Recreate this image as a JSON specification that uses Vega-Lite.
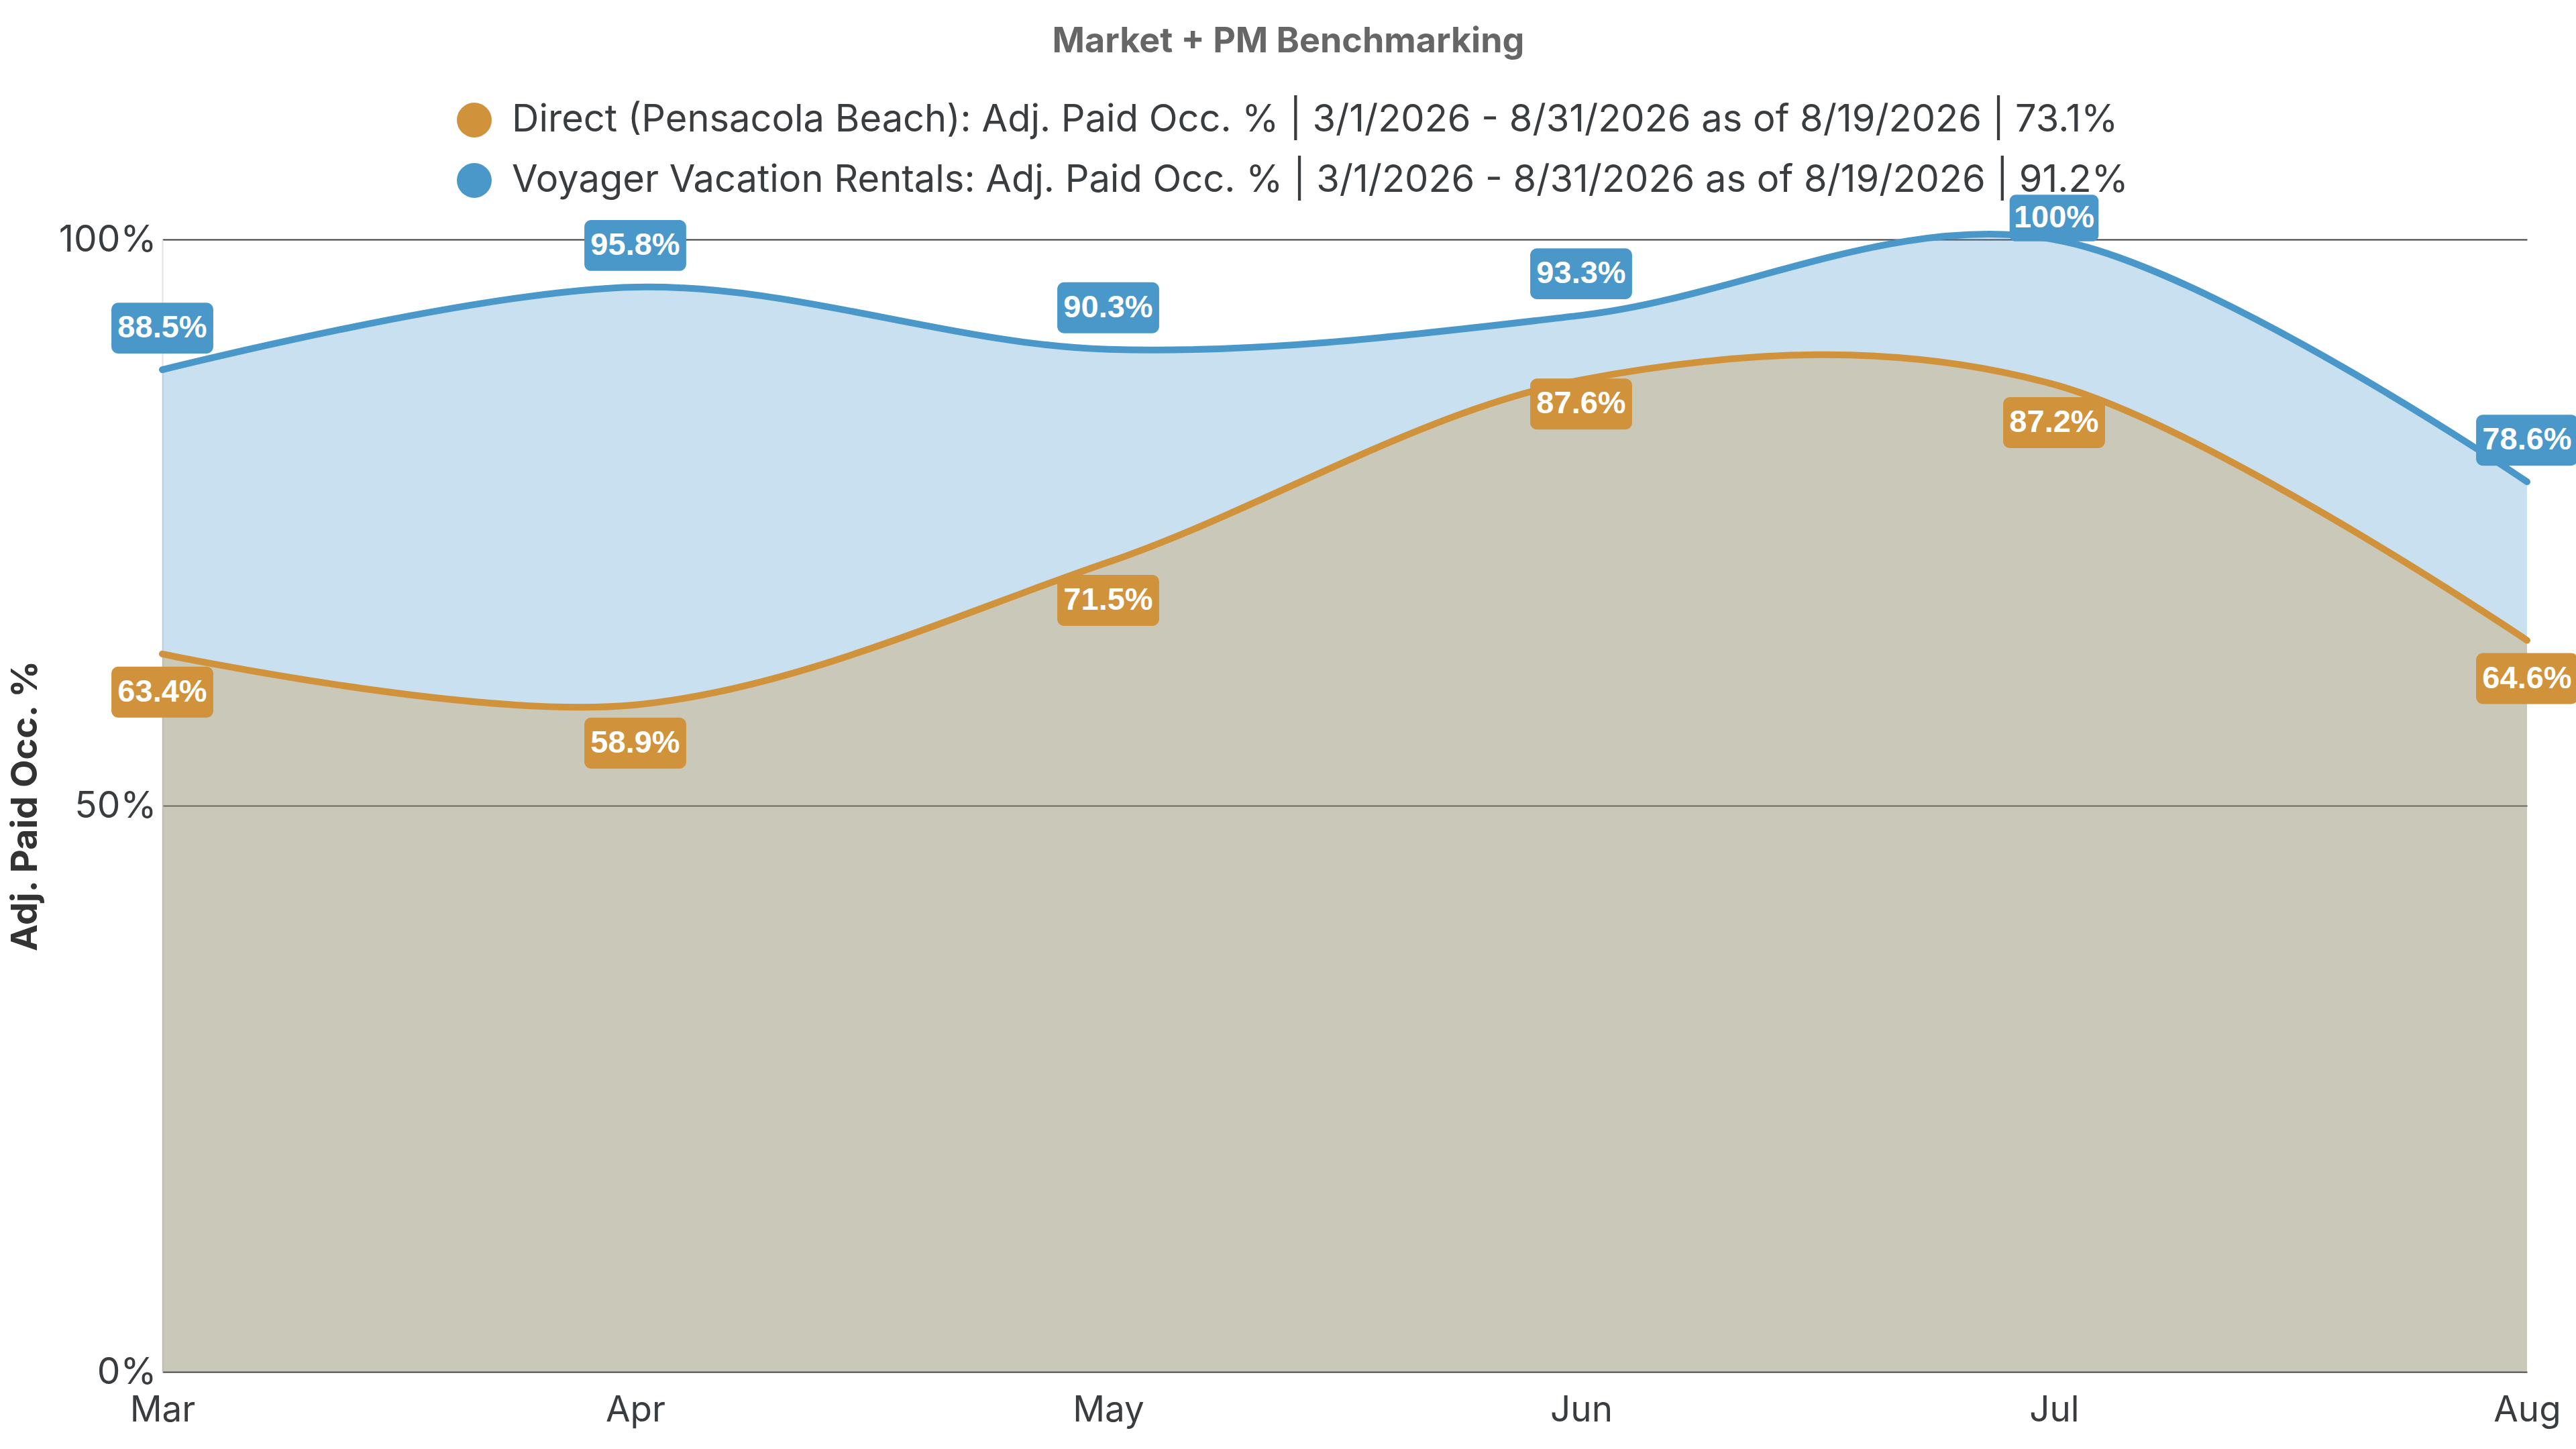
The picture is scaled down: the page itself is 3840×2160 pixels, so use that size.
{
  "$schema": "https://vega.github.io/schema/vega-lite/v6.json",
  "width": 3525,
  "height": 1688,
  "autosize": {"type": "none"},
  "padding": {"left": 242, "top": 357, "right": 73, "bottom": 115},
  "background": "white",
  "title": {
    "text": "Market + PM Benchmarking",
    "font": "Inter",
    "fontSize": 52,
    "fontWeight": "bold",
    "color": "#666666",
    "anchor": "middle",
    "frame": "group",
    "dx": -84,
    "offset": 62
  },
  "config": {
    "view": {"stroke": null}
  },
  "data": {
    "values": [
      {"month": "Mar", "series": "Direct (Pensacola Beach)", "occ": 0.634},
      {"month": "Apr", "series": "Direct (Pensacola Beach)", "occ": 0.589},
      {"month": "May", "series": "Direct (Pensacola Beach)", "occ": 0.715},
      {"month": "Jun", "series": "Direct (Pensacola Beach)", "occ": 0.876},
      {"month": "Jul", "series": "Direct (Pensacola Beach)", "occ": 0.872},
      {"month": "Aug", "series": "Direct (Pensacola Beach)", "occ": 0.646},
      {"month": "Mar", "series": "Voyager Vacation Rentals", "occ": 0.885},
      {"month": "Apr", "series": "Voyager Vacation Rentals", "occ": 0.958},
      {"month": "May", "series": "Voyager Vacation Rentals", "occ": 0.903},
      {"month": "Jun", "series": "Voyager Vacation Rentals", "occ": 0.933},
      {"month": "Jul", "series": "Voyager Vacation Rentals", "occ": 1.0},
      {"month": "Aug", "series": "Voyager Vacation Rentals", "occ": 0.786}
    ]
  },
  "encoding": {
    "x": {
      "field": "month",
      "type": "ordinal",
      "sort": ["Mar", "Apr", "May", "Jun", "Jul", "Aug"],
      "scale": {"type": "point", "padding": 0},
      "axis": {
        "title": null,
        "labelAngle": 0,
        "labelFont": "Inter",
        "labelFontSize": 53,
        "labelColor": "#3a3d40",
        "labelPadding": 31,
        "ticks": false,
        "domain": false,
        "grid": false
      }
    },
    "y": {
      "field": "occ",
      "type": "quantitative",
      "stack": null,
      "scale": {"domain": [0, 1]},
      "axis": {
        "values": [0, 0.5, 1],
        "format": "~%",
        "title": "Adj. Paid Occ. %",
        "titleFont": "Inter",
        "titleFontSize": 54,
        "titleFontWeight": "bold",
        "titleColor": "#333333",
        "titlePadding": 22,
        "labelFont": "Inter",
        "labelFontSize": 55,
        "labelColor": "#3a3d40",
        "labelPadding": 9,
        "ticks": false,
        "domain": true,
        "domainColor": "#e2e2e2",
        "domainWidth": 2,
        "grid": true,
        "gridColor": "#3a3d40",
        "gridWidth": 2
      }
    }
  },
  "layer": [
    {
      "transform": [{"filter": "datum.series == 'Voyager Vacation Rentals'"}],
      "mark": {"type": "area", "interpolate": "cardinal", "color": "#4a98c9", "fillOpacity": 0.3}
    },
    {
      "transform": [{"filter": "datum.series == 'Direct (Pensacola Beach)'"}],
      "mark": {"type": "area", "interpolate": "cardinal", "color": "#d0923a", "fillOpacity": 0.3}
    },
    {
      "mark": {"type": "line", "interpolate": "cardinal", "strokeWidth": 10, "strokeCap": "round"},
      "encoding": {
        "stroke": {
          "field": "series",
          "type": "nominal",
          "scale": {"domain": ["Voyager Vacation Rentals", "Direct (Pensacola Beach)"], "range": ["#4a98c9", "#d0923a"]},
          "legend": null
        }
      }
    },
    {
      "transform": [{"filter": "datum.series == 'Direct (Pensacola Beach)' && datum.month != 'Jun'"}],
      "layer": [
        {
          "mark": {
            "type": "point",
            "filled": true,
            "opacity": 1,
            "size": 21316,
            "yOffset": 57,
            "shape": "M-0.9,-0.52 L0.9,-0.52 A0.14,0.14 0 0 1 1.04,-0.38 L1.04,0.38 A0.14,0.14 0 0 1 0.9,0.52 L-0.9,0.52 A0.14,0.14 0 0 1 -1.04,0.38 L-1.04,-0.38 A0.14,0.14 0 0 1 -0.9,-0.52 Z"
          },
          "encoding": {
            "color": {
              "field": "series",
              "type": "nominal",
              "scale": {"domain": ["Direct (Pensacola Beach)", "Voyager Vacation Rentals"], "range": ["#d0923a", "#4a98c9"]},
              "legend": {
                "orient": "none",
                "legendX": 437,
                "legendY": -206,
                "direction": "vertical",
                "title": null,
                "padding": 0,
                "labelFont": "Inter",
                "labelFontSize": 56,
                "labelColor": "#3a3d40",
                "labelLimit": 4000,
                "labelOffset": 28,
                "symbolType": "circle",
                "symbolSize": 2700,
                "symbolStrokeWidth": 0,
                "symbolOpacity": 1,
                "rowPadding": 34,
                "labelExpr": "datum.label + ': Adj. Paid Occ. % | 3/1/2026 - 8/31/2026 as of 8/19/2026 | ' + (datum.label == 'Direct (Pensacola Beach)' ? '73.1%' : '91.2%')"
              }
            }
          }
        },
        {
          "mark": {"type": "text", "yOffset": 57, "font": "Liberation Sans", "fontSize": 47, "fontWeight": "bold", "color": "white", "baseline": "middle", "align": "center"},
          "encoding": {"text": {"field": "occ", "type": "quantitative", "format": ".1~%"}}
        }
      ]
    },
    {
      "transform": [{"filter": "datum.series == 'Direct (Pensacola Beach)' && datum.month == 'Jun'"}],
      "layer": [
        {
          "mark": {
            "type": "point",
            "filled": true,
            "opacity": 1,
            "size": 21316,
            "yOffset": 36,
            "shape": "M-0.9,-0.52 L0.9,-0.52 A0.14,0.14 0 0 1 1.04,-0.38 L1.04,0.38 A0.14,0.14 0 0 1 0.9,0.52 L-0.9,0.52 A0.14,0.14 0 0 1 -1.04,0.38 L-1.04,-0.38 A0.14,0.14 0 0 1 -0.9,-0.52 Z"
          },
          "encoding": {"color": {"field": "series", "type": "nominal"}}
        },
        {
          "mark": {"type": "text", "yOffset": 36, "font": "Liberation Sans", "fontSize": 47, "fontWeight": "bold", "color": "white", "baseline": "middle", "align": "center"},
          "encoding": {"text": {"field": "occ", "type": "quantitative", "format": ".1~%"}}
        }
      ]
    },
    {
      "transform": [{"filter": "datum.series == 'Voyager Vacation Rentals' && datum.occ < 1"}],
      "layer": [
        {
          "mark": {
            "type": "point",
            "filled": true,
            "opacity": 1,
            "size": 21316,
            "yOffset": -62,
            "shape": "M-0.9,-0.52 L0.9,-0.52 A0.14,0.14 0 0 1 1.04,-0.38 L1.04,0.38 A0.14,0.14 0 0 1 0.9,0.52 L-0.9,0.52 A0.14,0.14 0 0 1 -1.04,0.38 L-1.04,-0.38 A0.14,0.14 0 0 1 -0.9,-0.52 Z"
          },
          "encoding": {"color": {"field": "series", "type": "nominal"}}
        },
        {
          "mark": {"type": "text", "yOffset": -62, "font": "Liberation Sans", "fontSize": 47, "fontWeight": "bold", "color": "white", "baseline": "middle", "align": "center"},
          "encoding": {"text": {"field": "occ", "type": "quantitative", "format": ".1~%"}}
        }
      ]
    },
    {
      "transform": [{"filter": "datum.series == 'Voyager Vacation Rentals' && datum.occ >= 1"}],
      "layer": [
        {
          "mark": {
            "type": "point",
            "filled": true,
            "opacity": 1,
            "size": 17956,
            "yOffset": -32,
            "shape": "M-0.85,-0.52 L0.85,-0.52 A0.14,0.14 0 0 1 0.99,-0.38 L0.99,0.38 A0.14,0.14 0 0 1 0.85,0.52 L-0.85,0.52 A0.14,0.14 0 0 1 -0.99,0.38 L-0.99,-0.38 A0.14,0.14 0 0 1 -0.85,-0.52 Z"
          },
          "encoding": {"color": {"field": "series", "type": "nominal"}}
        },
        {
          "mark": {"type": "text", "yOffset": -32, "font": "Liberation Sans", "fontSize": 47, "fontWeight": "bold", "color": "white", "baseline": "middle", "align": "center"},
          "encoding": {"text": {"field": "occ", "type": "quantitative", "format": ".1~%"}}
        }
      ]
    }
  ]
}
